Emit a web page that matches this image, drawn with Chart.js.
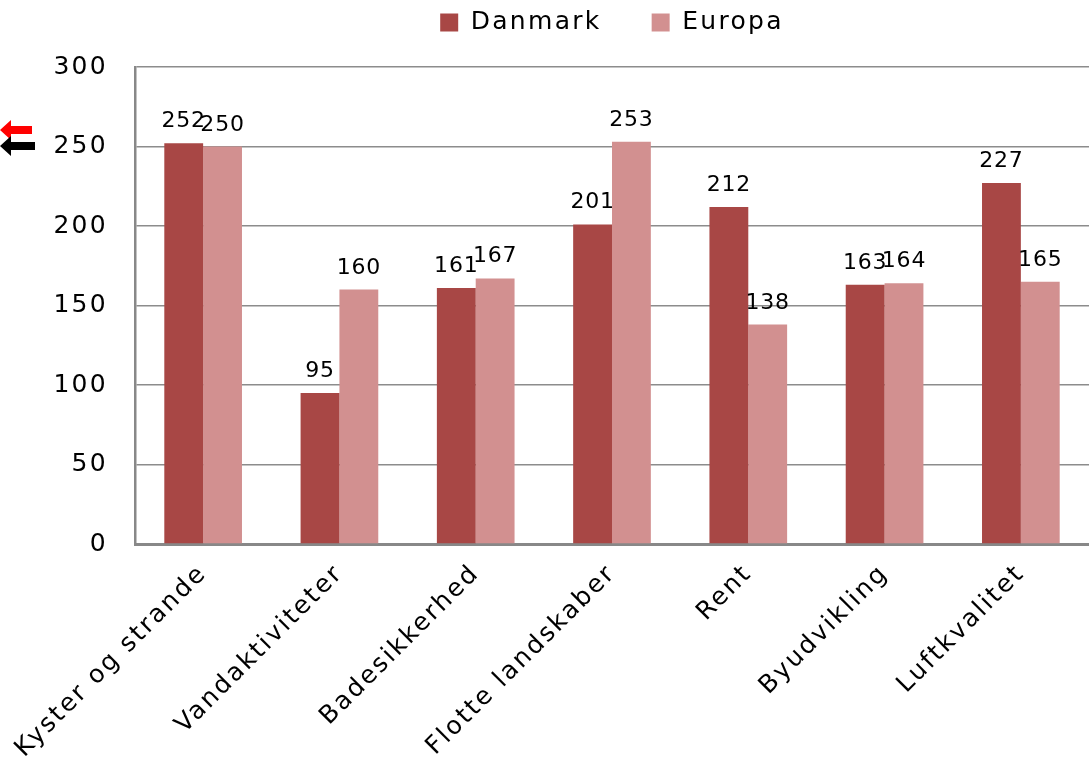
<!DOCTYPE html>
<html>
<head>
<meta charset="utf-8">
<script src="https://cdn.jsdelivr.net/npm/chart.js@4.4.1/dist/chart.umd.min.js"></script>
<style>
html,body{margin:0;padding:0;background:#fff;}
#wrap{width:1089px;height:768px;position:relative;}
</style>
</head>
<body>
<div id="wrap"><canvas id="c" width="1089" height="768"></canvas></div>
<script>
const categories = ["Kyster og strande","Vandaktiviteter","Badesikkerhed","Flotte landskaber","Rent","Byudvikling","Luftkvalitet"];
const danmark = [252, 95, 161, 201, 212, 163, 227];
const europa = [250, 160, 167, 253, 138, 164, 165];
const yTicks = [0, 50, 100, 150, 200, 250, 300];

const FONT = "'DejaVu Sans', Verdana, sans-serif";
const SPACING = '2.3px';

const textSpacing = {
  id: 'textSpacing',
  afterInit(chart) { chart.ctx.letterSpacing = SPACING; },
  beforeUpdate(chart) { chart.ctx.letterSpacing = SPACING; },
  beforeLayout(chart) {
    chart.ctx.letterSpacing = SPACING;
    const lg = chart.legend;
    if (lg && !lg._patched) {
      const orig = lg.fit.bind(lg);
      lg.fit = function () { orig(); this.height += 22; };
      lg._patched = true;
    }
  },
  beforeDraw(chart) { chart.ctx.letterSpacing = SPACING; }
};

const valueLabels = {
  id: 'valueLabels',
  afterDatasetsDraw(chart) {
    const ctx = chart.ctx;
    ctx.save();
    ctx.letterSpacing = '0.8px';
    ctx.font = "22px " + FONT;
    ctx.fillStyle = '#000';
    ctx.textAlign = 'center';
    ctx.textBaseline = 'alphabetic';
    chart.data.datasets.forEach((ds, di) => {
      chart.getDatasetMeta(di).data.forEach((bar, i) => {
        ctx.fillText(String(ds.data[i]), bar.x, bar.y - 16);
      });
    });
    ctx.restore();
  }
};

const arrows = {
  id: 'arrows',
  afterDraw(chart) {
    const ctx = chart.ctx;
    ctx.save();
    function arrow(color, y, shaftEnd, half, shaftHalf) {
      ctx.fillStyle = color;
      ctx.beginPath();
      ctx.moveTo(0, y);
      ctx.lineTo(11, y - half);
      ctx.lineTo(11, y - shaftHalf);
      ctx.lineTo(shaftEnd, y - shaftHalf);
      ctx.lineTo(shaftEnd, y + shaftHalf);
      ctx.lineTo(11, y + shaftHalf);
      ctx.lineTo(11, y + half);
      ctx.closePath();
      ctx.fill();
    }
    arrow('#ff0000', 130, 32, 10, 4);
    arrow('#000000', 146, 35, 10, 4);
    ctx.restore();
  }
};

new Chart(document.getElementById('c'), {
  type: 'bar',
  data: {
    labels: categories,
    datasets: [
      { label: 'Danmark', data: danmark, backgroundColor: '#a84745', borderWidth: 0 },
      { label: 'Europa', data: europa, backgroundColor: '#d29090', borderWidth: 0 }
    ]
  },
  options: {
    responsive: false,
    animation: false,
    devicePixelRatio: 1,
    layout: { padding: { top: -40, right: -3, left: 0, bottom: 0 } },
    datasets: { bar: { categoryPercentage: 0.57, barPercentage: 1.0 } },
    plugins: {
      legend: {
        position: 'top',
        fullSize: false,
        labels: {
          font: { family: FONT, size: 25 },
          color: '#000',
          boxWidth: 18,
          boxHeight: 18,
          padding: 50
        }
      },
      tooltip: { enabled: false }
    },
    scales: {
      x: {
        grid: { display: false, drawTicks: false },
        border: { color: '#888888', width: 3 },
        ticks: {
          font: { family: FONT, size: 25 },
          color: '#000',
          minRotation: 45,
          maxRotation: 45,
          padding: 15,
          autoSkip: false
        },
        afterFit(s) {
          s.height = 224;
          s.paddingLeft = 0;
          s.paddingRight = 0;
        }
      },
      y: {
        min: 0,
        max: 300,
        afterBuildTicks(s) { s.ticks = yTicks.map(v => ({ value: v })); },
        grid: { color: '#8c8c8c', lineWidth: 1.5, drawTicks: false },
        border: { color: '#888888', width: 2.5 },
        ticks: {
          font: { family: FONT, size: 25 },
          color: '#000',
          padding: 27
        },
        afterFit(s) {
          s.width = 135;
          s.paddingTop = 0;
          s.paddingBottom = 0;
        }
      }
    }
  },
  plugins: [textSpacing, valueLabels, arrows]
});
</script>
</body>
</html>
